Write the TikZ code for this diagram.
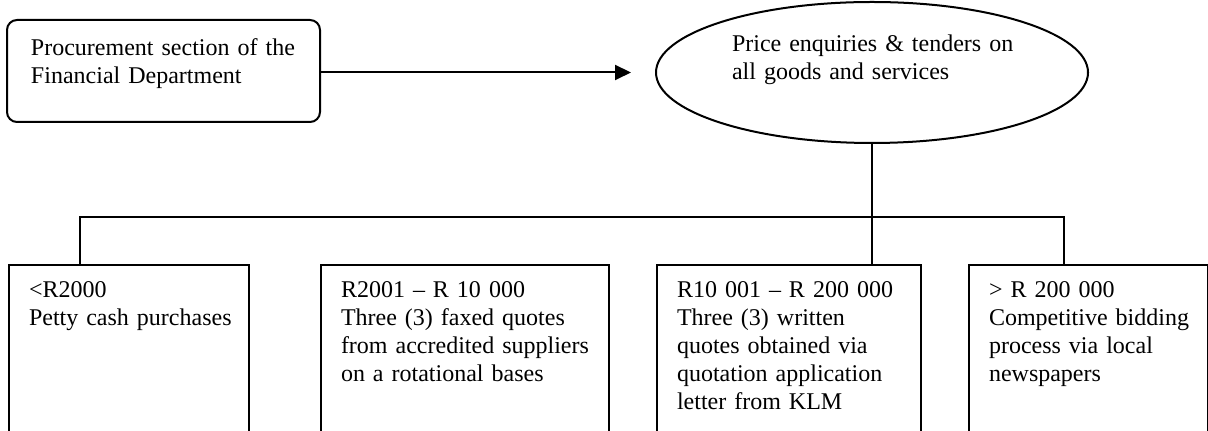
\documentclass[tikz,border=0pt]{standalone}
\usepackage{fontspec}
\setmainfont{Liberation Serif}
\usetikzlibrary{arrows.meta,shapes.geometric}
\tikzset{
  txt/.style={font=\fontsize{12pt}{14pt}\selectfont, align=left},
  ln/.style={line width=1pt, black},
  cell/.style={txt, draw, ln, rectangle, anchor=north west, inner xsep=10pt, inner ysep=0pt,
    text height=16.5pt, text depth=100pt},
  arr/.style={ln, -{Triangle[length=8pt,width=7.5pt]}},
}
\begin{document}
\begin{tikzpicture}[x=0.5pt,y=-0.5pt]
\useasboundingbox (0,0) rectangle (1208,431);
\clip (0,0) rectangle (1208,431);
% top rounded box
\node[txt, draw, ln, rounded corners=5pt, anchor=north west, inner xsep=12pt, inner ysep=0pt,
  text width=132.5pt, text height=18pt, text depth=33pt] (A) at (6,19)
  {\mbox{Procurement section of the}\\\mbox{Financial Department}};
% ellipse
\node[txt, draw, ln, ellipse, inner sep=0pt, minimum width=216pt, minimum height=70.5pt,
  text width=140pt, text height=10pt, text depth=30.5pt] (E) at (872,72.5)
  {\mbox{Price enquiries \& tenders on}\\\mbox{all goods and services}};
\draw[arr, shorten >=12pt] (E.west -| A.east) -- (E.west);
% bottom boxes
\node[cell, text width=100pt] (B1) at (8,264) {\mbox{<R2000}\\\mbox{Petty cash purchases}};
\node[cell, text width=124pt] (B2) at (320,264)
  {\mbox{R2001 -- R 10 000}\\\mbox{Three (3) faxed quotes}\\\mbox{from accredited suppliers}\\\mbox{on a rotational bases}};
\node[cell, text width=112pt] (B3) at (656,264)
  {\mbox{R10 001 -- R 200 000}\\\mbox{Three (3) written}\\\mbox{quotes obtained via}\\\mbox{quotation application}\\\mbox{letter from KLM}};
\node[cell, text width=99.5pt] (B4) at (968,264)
  {\mbox{> R 200 000}\\\mbox{Competitive bidding}\\\mbox{process via local}\\\mbox{newspapers}};
% connectors
\coordinate (j1) at (80,217);
\coordinate (j4) at (1064,217);
\draw[ln] (E.south) -- (E.south |- B3.north);
\draw[ln] (j1 |- B1.north) -- (j1) -- (j4) -- (j4 |- B4.north);
\end{tikzpicture}
\end{document}
